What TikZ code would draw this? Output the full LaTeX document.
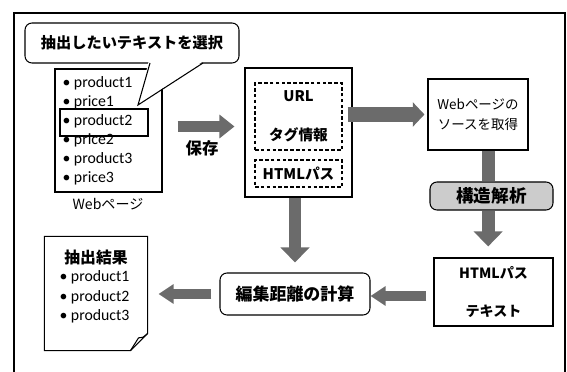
\documentclass[tikz,border=0pt]{standalone}
\usepackage{fontspec}
\setmainfont{Noto Sans CJK JP}
\newfontfamily\latin{Carlito}
\usetikzlibrary{arrows.meta,positioning}

\begin{document}
\begin{tikzpicture}[x=0.03cm,y=-0.03cm,line width=0.9pt]
  \tikzstyle{box}=[draw,inner sep=0pt,align=center]
  \tikzstyle{rbox}=[box,rounded corners=6pt]
  \tikzstyle{dbox}=[box,dash pattern=on 3pt off 2pt,minimum width=2.61cm]
  \tikzstyle{item}=[anchor=west,inner sep=0pt,font=\latin\fontsize{13.5}{15}\selectfont]
  \tikzstyle{fat}=[line width=10pt,draw=black!58,-{Triangle[width=21pt,length=12pt]}]
  \useasboundingbox (0,0) rectangle (567,372);
  % outer frame
  \draw[line width=1.3pt] (14,372) -- (14,13) -- (565,13) -- (565,372);

  % web page with its list
  \node[box,minimum width=3.21cm,minimum height=3.69cm] (web) at (108.5,130.5) {};
  \foreach \t [count=\i] in {product1,price1,product2,price2,product3,price3}
    \node[item] (w\i) at (62,64+19*\i) {• \t};
  \node[box,line width=1.3pt,minimum width=2.64cm,minimum height=0.81cm] (sel) at (104,122.5) {};
  \node[font=\fontsize{12}{14}\selectfont] (weblbl) at (108,204) {Webページ};

  % callout
  \node[rbox,fill=white,minimum width=6.42cm,minimum height=1.2cm,font=\bfseries\fontsize{13}{15}\selectfont] (call) at (132,43) {抽出したいテキストを選択};
  \coordinate (tip) at (138,105);
  \fill[white] (149,60) -- (tip) -- (205,60) -- cycle;
  \draw (150,63) -- (tip) -- (203,63);

  % stored data
  \node[box,minimum width=3.21cm,minimum height=3.87cm] (store) at (298.5,132.5) {};
  \node[dbox,minimum height=2.01cm,font=\bfseries\fontsize{12.5}{15}\selectfont] (tag) at (298.5,116.5) {URL\\[18pt]タグ情報};
  \node[dbox,minimum height=0.81cm,font=\bfseries\fontsize{12.5}{15}\selectfont] (path) at (298.5,173.5) {HTMLパス};
  \node[font=\bfseries\fontsize{14}{16}\selectfont] (save) at (202,148) {保存};

  \node[box,minimum width=3cm,minimum height=2.13cm,font=\fontsize{11.5}{17}\selectfont] (source) at (478,114.5) {Webページの\\ソースを取得};
  \node[rbox,fill=gray!40,minimum width=3.69cm,minimum height=0.84cm,font=\bfseries\fontsize{15}{17}\selectfont] (parse) at (491.5,196) {構造解析};
  \node[box,minimum width=3.57cm,minimum height=2.04cm,font=\bfseries\fontsize{12}{15}\selectfont] (html) at (493.5,292) {HTMLパス\\[18pt]テキスト};
  \node[rbox,minimum width=4.5cm,minimum height=1.26cm,font=\bfseries\fontsize{14.5}{17}\selectfont] (calc) at (295,294) {編集距離の計算};

  % result
  \node[minimum width=3.06cm,minimum height=3.39cm] (res) at (96,293.5) {};
  \draw (res.north west) -- (res.north east) -- ([yshift=0.51cm]res.south east) -- ([xshift=-0.51cm]res.south east) -- (res.south west) -- cycle;
  \draw ([yshift=0.51cm]res.south east) .. controls ([xshift=-0.15cm,yshift=0.38cm]res.south east) .. ([xshift=-0.27cm,yshift=0.38cm]res.south east) -- ([xshift=-0.51cm]res.south east);
  \node[font=\bfseries\fontsize{13.5}{16}\selectfont] (restitle) at (96,257) {抽出結果};
  \foreach \t [count=\i] in {product1,product2,product3}
    \node[item] (r\i) at (59,258+19.5*\i) {• \t};

  % arrows
  \draw[fat,line width=9.4pt,-{Triangle[width=19.5pt,length=12.8pt]},shorten <=0.45cm,shorten >=0.3cm] ([yshift=0.12cm]web.east) -- ([yshift=0.12cm]web.east -| store.west);
  \draw[fat,line width=12pt,-{Triangle[width=20.5pt,length=10pt]},shorten <=-0.15cm,shorten >=0.09cm] (store.east |- source.west) -- (source.west);
  \draw[line width=11pt,draw=black!58] ([xshift=-0.09cm]parse.north |- source.south) -- ([xshift=-0.09cm]parse.north);
  \draw[fat,line width=11pt,-{Triangle[width=24pt,length=12.8pt]},shorten >=0.33cm] ([xshift=-0.1cm]parse.south) -- ([xshift=-0.1cm]parse.south |- html.north);
  \draw[fat,line width=11pt,-{Triangle[width=24pt,length=12.8pt]},shorten >=0.3cm] (store.south -| calc.north) -- (calc.north);
  \draw[fat,line width=9pt,-{Triangle[width=16pt,length=12.8pt]},shorten <=0.21cm] ([yshift=-0.12cm]html.west) -- ([yshift=-0.12cm]html.west -| calc.east);
  \draw[fat,line width=9pt,-{Triangle[width=16pt,length=12.8pt]},shorten <=0.24cm,shorten >=0.33cm] (calc.west) -- (calc.west -| res.east);
\end{tikzpicture}
\end{document}
